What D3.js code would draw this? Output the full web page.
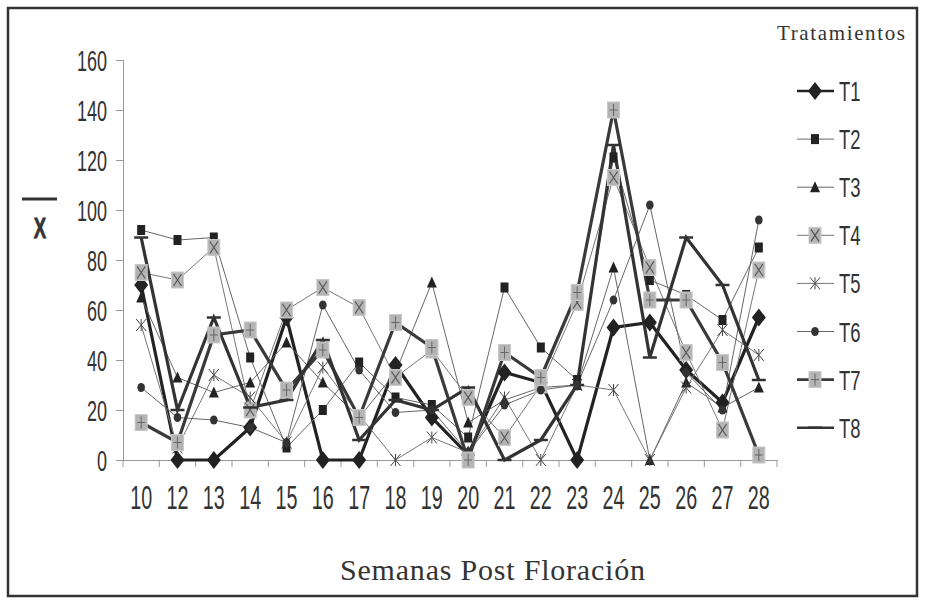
<!DOCTYPE html>
<html>
<head>
<meta charset="utf-8">
<script src="https://cdn.jsdelivr.net/npm/d3@7"></script>
<style>
  body { margin: 0; background: #fff; }
  text { fill: #333; }
</style>
</head>
<body>
<svg id="chart" width="929" height="600"></svg>
<script>
// weeks after flowering
var semanas = ["10","12","13","14","15","16","17","18","19","20","21","22","23","24","25","26","27","28"];
var yTicks = [0, 20, 40, 60, 80, 100, 120, 140, 160];
var tratamientos = ["T1","T2","T3","T4","T5","T6","T7","T8"];

var t1 = [70, 0, 0, 13, 57, 0, 0, 38, 17, 2, 35, 31, 0, 53, 55, 36, 23, 57];
var t2 = [92, 88, 89, 41, 5, 20, 39, 25, 22, 9, 69, 45, 32, 121, 72, 66, 56, 85];
var t3 = [65, 33, 27, 31, 47, 31, 17, 35, 71, 15, 24, 29, 30, 77, 0, 31, 21, 29];
var t4 = [75, 72, 85, 20, 60, 69, 61, 33, 44, 25, 9, 30, 63, 113, 77, 43, 12, 76];
var t5 = [54, 5, 34, 25, 7, 37, 18, 0, 9, 3, 25, 0, 30, 28, 0, 29, 52, 42];
var t6 = [29, 17, 16, 13, 7, 62, 36, 19, 20, 3, 22, 28, 30, 64, 102, 35, 20, 96];
var t7 = [15, 7, 50, 52, 28, 44, 17, 55, 45, 0, 43, 33, 67, 140, 64, 64, 39, 2];
var t8 = [89, 20, 57, 21, 24, 48, 8, 24, 20, 29, 0, 8, 30, 126, 41, 89, 70, 32];

var valores = [t1, t2, t3, t4, t5, t6, t7, t8];

var svg = d3.select("#chart");

// outer frame
svg.append("rect")
  .attr("x", 8).attr("y", 8)
  .attr("width", 909).attr("height", 588)
  .attr("fill", "none")
  .attr("stroke", "#333")
  .attr("stroke-width", 2.5);

var x = d3.scaleBand().domain(semanas).range([123, 777]);
var y = d3.scaleLinear().domain([0, 160]).range([460, 60]);

function cx(c) { return x(c) + x.bandwidth() / 2; }

// y axis
var narrowY = 0.6;
var yAxis = svg.append("g")
  .attr("transform", "translate(123,0)")
  .call(d3.axisLeft(y).tickValues(yTicks).tickSize(7).tickPadding(8));
yAxis.select(".domain").attr("stroke", "#999");
yAxis.selectAll(".tick line").attr("stroke", "#999");
yAxis.selectAll(".tick text")
  .attr("font-family", "Liberation Sans, Arial, sans-serif")
  .attr("font-size", 30)
  .attr("fill", "#333")
  .attr("x", -16 / narrowY)
  .attr("dy", "0.36em")
  .attr("transform", "scale(" + narrowY + ",1)");

// x axis: labels centred in each band, ticks on band edges
var xAxis = svg.append("g")
  .attr("transform", "translate(0,460)")
  .call(d3.axisBottom(x).tickSize(0).tickPadding(0));
xAxis.select(".domain").attr("stroke", "#999");
var narrowX = 0.58;
xAxis.selectAll(".tick text")
  .attr("font-family", "Liberation Sans, Arial, sans-serif")
  .attr("font-size", 34)
  .attr("fill", "#333")
  .attr("y", 0)
  .attr("dy", "1.45em")
  .attr("transform", "scale(" + narrowX + ",1)");
xAxis.selectAll(".edge")
  .data(semanas.concat(["end"]))
  .enter().append("line")
  .attr("x1", function (d, i) { return x.range()[0] + i * x.step(); })
  .attr("x2", function (d, i) { return x.range()[0] + i * x.step(); })
  .attr("y1", 0).attr("y2", 7)
  .attr("stroke", "#999");

// marker drawing
function grayBox(g, kind) {
  g.append("rect").attr("x", -6).attr("y", -8).attr("width", 12).attr("height", 16)
    .attr("fill", "#b4b4b4").attr("stroke", "#c8c8c8").attr("stroke-width", 1);
  if (kind == "x") {
    g.append("path").attr("d", "M-4,-6L4,6M4,-6L-4,6").attr("stroke", "#555").attr("stroke-width", 1.2);
  } else {
    g.append("path").attr("d", "M0,-6V6M-4,0H4").attr("stroke", "#666").attr("stroke-width", 1);
  }
}

function marker(g, t) {
  if (t == 0) {
    g.append("path").attr("d", "M0,-9L7,0L0,9L-7,0Z").attr("fill", "#222");
  } else if (t == 1) {
    g.append("rect").attr("x", -4).attr("y", -5).attr("width", 8).attr("height", 10).attr("fill", "#222");
  } else if (t == 2) {
    g.append("path").attr("d", "M0,-6L5,5L-5,5Z").attr("fill", "#222");
  } else if (t == 3) {
    grayBox(g, "x");
  } else if (t == 4) {
    g.append("path").attr("d", "M-5,-6L5,6M5,-6L-5,6M0,-6V-1M0,6V1").attr("stroke", "#444").attr("stroke-width", 1).attr("fill", "none");
  } else if (t == 5) {
    g.append("ellipse").attr("rx", 3.8).attr("ry", 4.5).attr("fill", "#333");
  } else if (t == 6) {
    grayBox(g, "plus");
  } else {
    g.append("path").attr("d", "M-7,0H7").attr("stroke", "#333").attr("stroke-width", 2.5);
  }
}

var lineWidth = [3.2, 1, 1, 1, 1, 1, 3.2, 3.2];
var lineColor = ["#222", "#666", "#666", "#777", "#777", "#666", "#3a3a3a", "#333"];

var line = d3.line()
  .x(function (d, i) { return cx(semanas[i]); })
  .y(function (d) { return y(d); });

valores.forEach(function (serie, t) {
  svg.append("path")
    .attr("d", line(serie))
    .attr("fill", "none")
    .attr("stroke", lineColor[t])
    .attr("stroke-width", lineWidth[t])
    .attr("stroke-linejoin", "miter");
});

valores.forEach(function (serie, t) {
  serie.forEach(function (v, i) {
    var g = svg.append("g").attr("transform", "translate(" + cx(semanas[i]) + "," + y(v) + ")");
    marker(g, t);
  });
});

// legend
svg.append("text")
  .attr("x", 777).attr("y", 40)
  .attr("font-family", "Liberation Serif, Times New Roman, serif")
  .attr("font-size", 21)
  .attr("textLength", 128)
  .text("Tratamientos");

var legend = svg.selectAll(".leg")
  .data(tratamientos)
  .enter().append("g")
  .attr("transform", function (d, i) { return "translate(797," + (91 + i * 48.1) + ")"; });

legend.append("line")
  .attr("x1", 0).attr("x2", 37)
  .attr("stroke", function (d, i) { return lineColor[i]; })
  .attr("stroke-width", function (d, i) { return lineWidth[i] == 1 ? 1 : 2.6; });

legend.each(function (d, i) {
  var g = d3.select(this).append("g").attr("transform", "translate(18,0)");
  marker(g, i);
});

legend.append("text")
  .attr("transform", "translate(42,0) scale(0.66,1)")
  .attr("dy", "0.36em")
  .attr("font-family", "Liberation Sans, Arial, sans-serif")
  .attr("font-size", 28)
  .text(function (d) { return d; });

// axis titles
svg.append("text")
  .attr("x", 340).attr("y", 580)
  .attr("font-family", "Liberation Serif, Times New Roman, serif")
  .attr("font-size", 30)
  .attr("textLength", 305)
  .text("Semanas Post Floración");

svg.append("line")
  .attr("x1", 22).attr("x2", 57).attr("y1", 199).attr("y2", 199)
  .attr("stroke", "#333").attr("stroke-width", 3);
svg.append("text")
  .attr("transform", "translate(40,238) scale(0.62,1)")
  .attr("text-anchor", "middle")
  .attr("font-family", "Liberation Sans, Arial, sans-serif")
  .attr("font-weight", "bold")
  .attr("font-size", 30)
  .attr("stroke", "#333")
  .attr("stroke-width", 0.8)
  .text("X");
</script>
</body>
</html>
